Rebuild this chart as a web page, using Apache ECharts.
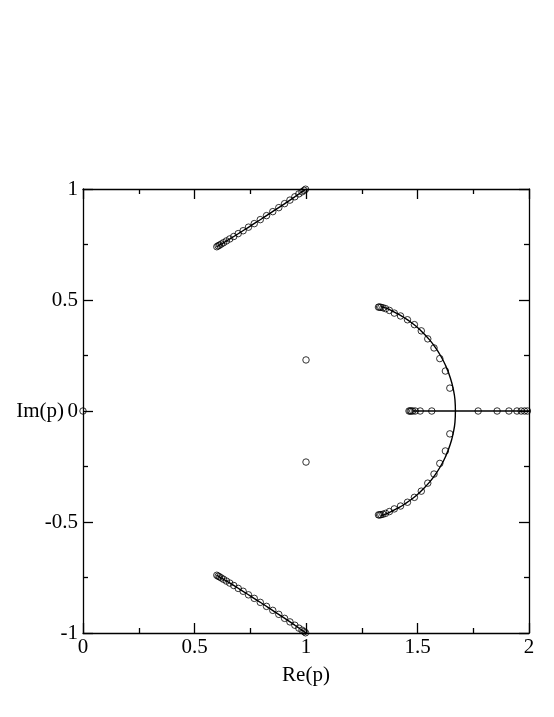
<!DOCTYPE html>
<html>
<head>
<meta charset="utf-8">
<script src="https://cdn.jsdelivr.net/npm/echarts@6/dist/echarts.min.js"></script>
<style>html,body{margin:0;padding:0;background:#fff;}#c{width:554px;height:717px;}</style>
</head>
<body>
<div id="c"></div>
<script>
// Upper branch curve (line) and its circle points
const upperCurve = [[0.600,0.740],[0.650,0.770],[0.700,0.801],[0.750,0.833],[0.800,0.865],[0.850,0.898],[0.900,0.931],[0.950,0.965],[1.000,1.000]];
const lowerCurve = [[0.600,-0.740],[0.650,-0.770],[0.700,-0.801],[0.750,-0.833],[0.800,-0.865],[0.850,-0.898],[0.900,-0.931],[0.950,-0.965],[1.000,-1.000]];
const upperPoints = [[0.600,0.740],[0.606,0.744],[0.612,0.747],[0.620,0.752],[0.630,0.758],[0.643,0.766],[0.658,0.775],[0.676,0.786],[0.696,0.799],[0.718,0.812],[0.742,0.828],[0.768,0.844],[0.795,0.862],[0.823,0.880],[0.851,0.898],[0.878,0.916],[0.904,0.934],[0.928,0.950],[0.950,0.965],[0.968,0.978],[0.982,0.987],[0.992,0.994],[0.998,0.999]];
const lowerPoints = [[0.600,-0.740],[0.606,-0.744],[0.612,-0.747],[0.620,-0.752],[0.630,-0.758],[0.643,-0.766],[0.658,-0.775],[0.676,-0.786],[0.696,-0.799],[0.718,-0.812],[0.742,-0.828],[0.768,-0.844],[0.795,-0.862],[0.823,-0.880],[0.851,-0.898],[0.878,-0.916],[0.904,-0.934],[0.928,-0.950],[0.950,-0.965],[0.968,-0.978],[0.982,-0.987],[0.992,-0.994],[0.998,-0.999]];
// Arc (line) and its circle points
const arcCurve = [[1.335,0.470],[1.360,0.463],[1.388,0.450],[1.420,0.433],[1.441,0.420],[1.470,0.400],[1.500,0.376],[1.527,0.350],[1.550,0.325],[1.570,0.300],[1.603,0.250],[1.628,0.200],[1.647,0.150],[1.660,0.100],[1.668,0.050],[1.670,0.000],[1.668,-0.050],[1.660,-0.100],[1.647,-0.150],[1.628,-0.200],[1.603,-0.250],[1.570,-0.300],[1.550,-0.325],[1.527,-0.350],[1.500,-0.376],[1.470,-0.400],[1.441,-0.420],[1.420,-0.433],[1.388,-0.450],[1.360,-0.463],[1.335,-0.470]];
const arcPoints = [[1.325,0.468],[1.330,0.468],[1.336,0.467],[1.345,0.465],[1.357,0.461],[1.374,0.453],[1.396,0.441],[1.424,0.428],[1.455,0.411],[1.486,0.389],[1.517,0.361],[1.546,0.325],[1.574,0.284],[1.600,0.236],[1.625,0.180],[1.645,0.103],
  [1.645,-0.103],[1.625,-0.180],[1.600,-0.236],[1.574,-0.284],[1.546,-0.325],[1.517,-0.361],[1.486,-0.389],[1.455,-0.411],[1.424,-0.428],[1.396,-0.441],[1.374,-0.453],[1.357,-0.461],[1.345,-0.465],[1.336,-0.467],[1.330,-0.468],[1.325,-0.468]];
// Real axis segment and its circle points
const realLine = [[1.480,0],[2.000,0]];
const realPoints = [[1.462,0],[1.467,0],[1.472,0],[1.479,0],[1.490,0],[1.512,0],[1.564,0],[1.772,0],[1.857,0],[1.910,0],[1.946,0],[1.965,0],[1.980,0],[1.993,0]];
// Isolated points
const isolatedPoints = [[1.000,0.230],[1.000,-0.230],[0.000,0.000]];

const xTicks = {min:0, max:2, interval:0.5};
const yTicks = {min:-1, max:1, interval:0.5};

const font = 'Liberation Serif';
const axisLineStyle = {color:'#000', width:1.3};
function axisCommon(extra){
  return Object.assign({
    type:'value',
    axisLine:{show:true, onZero:false, lineStyle:axisLineStyle},
    axisTick:{show:true, inside:true, length:10, lineStyle:axisLineStyle},
    minorTick:{show:true, splitNumber:2, length:5, lineStyle:axisLineStyle},
    splitLine:{show:false},
    minorSplitLine:{show:false}
  }, extra);
}
const lineStyle = {color:'#000', width:1.4};
function lineSeries(data){
  return {type:'line', data:data, showSymbol:false, symbol:'none', lineStyle:lineStyle, smooth:true, silent:true, animation:false, z:2};
}
function pointSeries(data){
  return {type:'scatter', data:data, symbol:'circle', symbolSize:6.5,
    itemStyle:{color:'rgba(0,0,0,0)', borderColor:'#000', borderWidth:1}, silent:true, animation:false, z:3};
}
const chart = echarts.init(document.getElementById('c'), null, {renderer:'canvas'});
chart.setOption({
  backgroundColor:'#fff',
  animation:false,
  grid:{left:83, right:25, top:189, bottom:84, containLabel:false},
  xAxis:[
    axisCommon({position:'bottom', min:xTicks.min, max:xTicks.max, interval:xTicks.interval,
      name:'Re(p)', nameLocation:'middle', nameGap:32,
      nameTextStyle:{fontFamily:font, fontSize:21, color:'#000'},
      axisLabel:{show:true, margin:4, fontFamily:font, fontSize:21, color:'#000', showMinLabel:true, showMaxLabel:true}}),
    axisCommon({position:'top', min:xTicks.min, max:xTicks.max, interval:xTicks.interval, axisLabel:{show:false}})
  ],
  yAxis:[
    axisCommon({position:'left', min:yTicks.min, max:yTicks.max, interval:yTicks.interval,
      name:'Im(p)', nameLocation:'middle', nameGap:19, nameRotate:0, nameMoveOverlap:false,
      nameTextStyle:{fontFamily:font, fontSize:21, color:'#000'},
      axisLabel:{show:true, margin:5, fontFamily:font, fontSize:21, color:'#000', showMinLabel:true, showMaxLabel:true}}),
    axisCommon({position:'right', min:yTicks.min, max:yTicks.max, interval:yTicks.interval, axisLabel:{show:false}})
  ],
  series:[
    lineSeries(upperCurve),
    lineSeries(lowerCurve),
    lineSeries(arcCurve),
    Object.assign(lineSeries(realLine), {smooth:false}),
    pointSeries(upperPoints),
    pointSeries(lowerPoints),
    pointSeries(arcPoints),
    pointSeries(realPoints),
    pointSeries(isolatedPoints)
  ]
});
</script>
</body>
</html>
